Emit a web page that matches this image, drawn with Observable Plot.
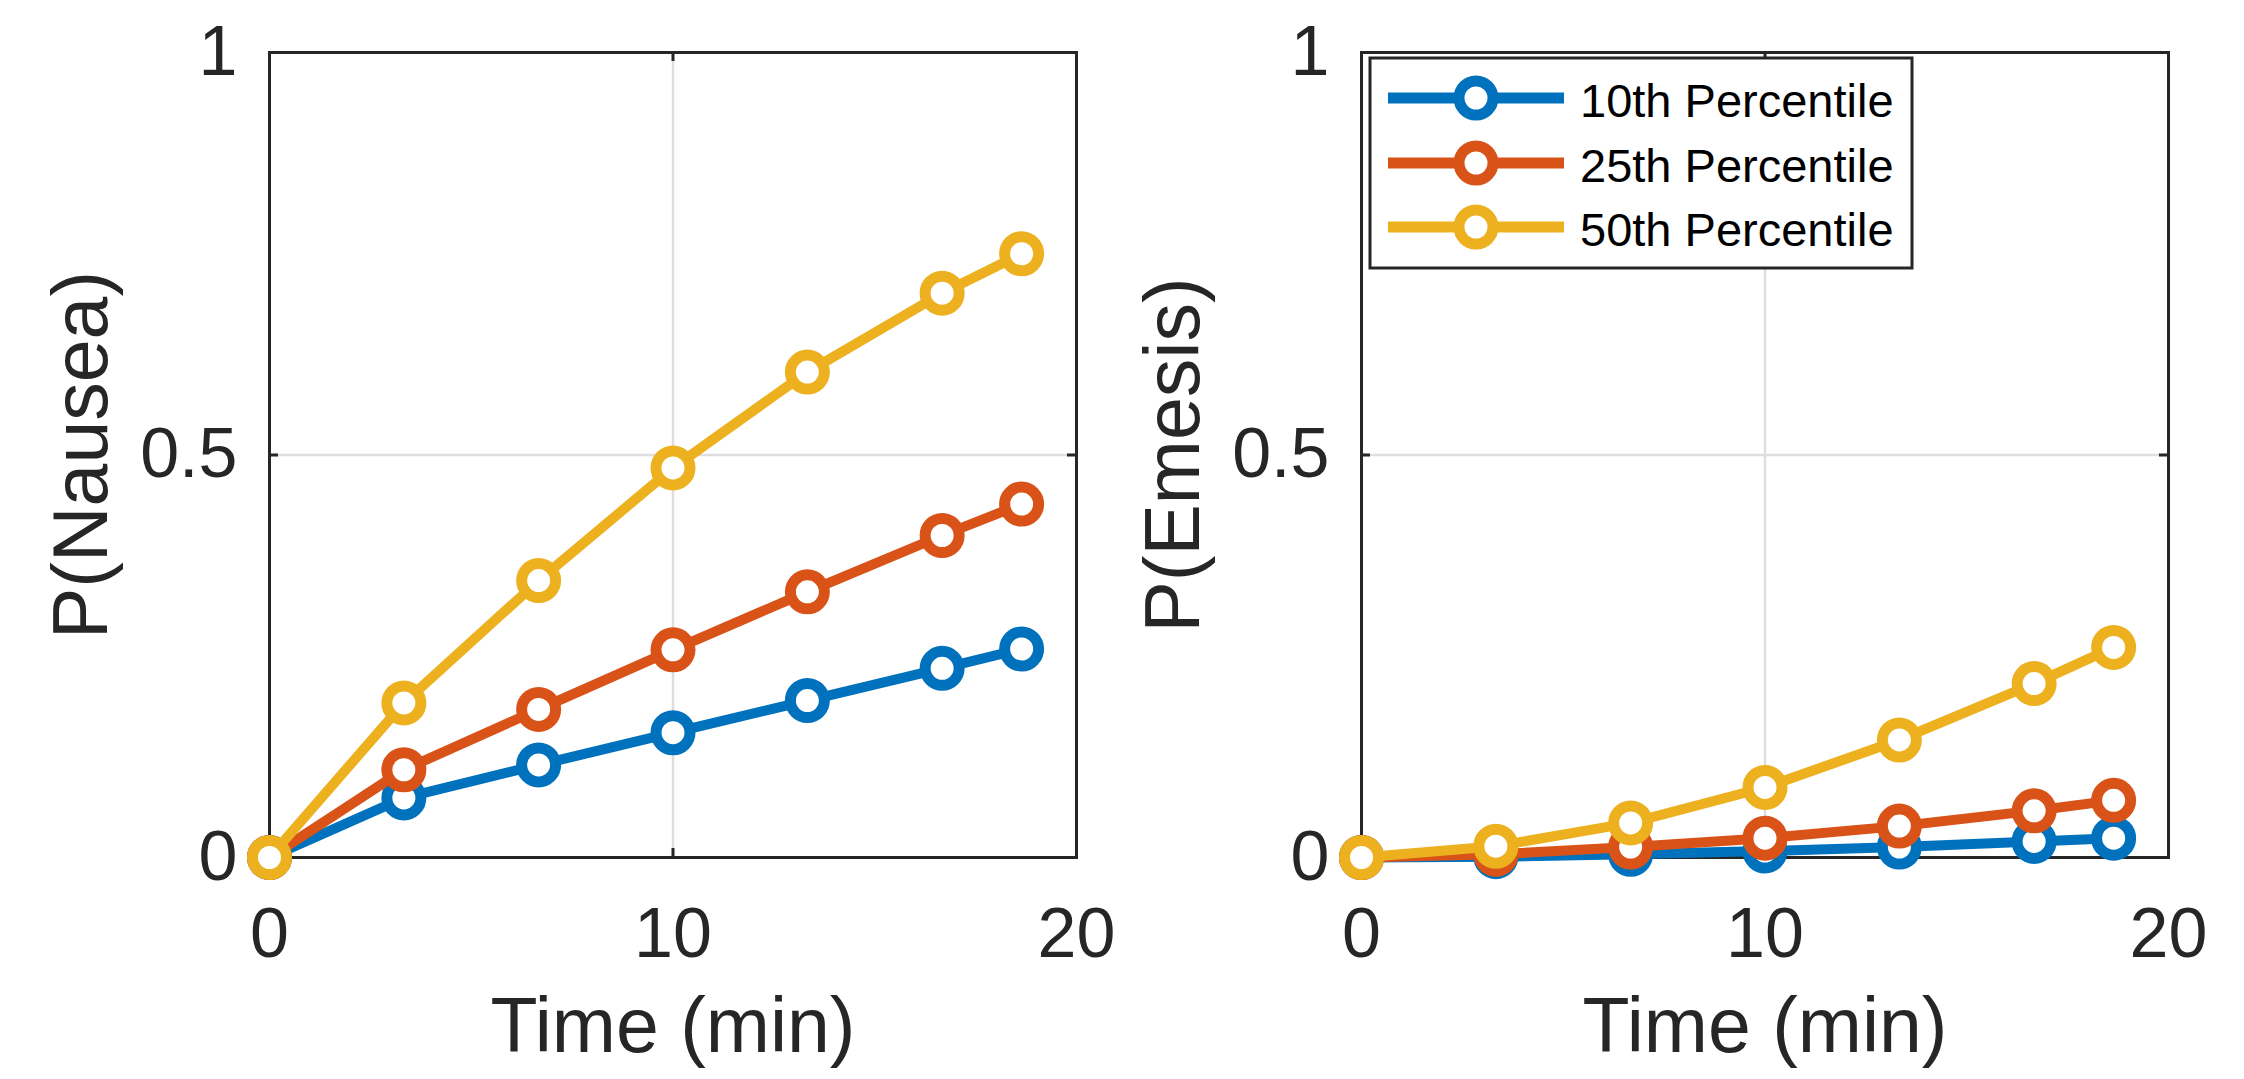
<!DOCTYPE html>
<html>
<head>
<meta charset="utf-8">
<script src="https://cdn.jsdelivr.net/npm/d3@7"></script>
<script src="https://cdn.jsdelivr.net/npm/@observablehq/plot@0.6"></script>
<style>
  html, body { margin: 0; padding: 0; background: #ffffff; }
  #wrap { position: relative; width: 2244px; height: 1079px; overflow: hidden; background: #fff; }
  #wrap > div, #wrap > svg { position: absolute; top: 0; }
  text { font-family: "Liberation Sans", Arial, Helvetica, sans-serif; }
</style>
</head>
<body>
<div id="wrap"></div>
<script>
// ---- data ----
const times = [0, 3.33, 6.67, 10, 13.33, 16.67, 18.64];
const seriesNames = ["10th Percentile", "25th Percentile", "50th Percentile"];
const seriesColors = ["#0072BD", "#D95319", "#EDB120"];

const nausea10 = [0, 0.074, 0.115, 0.155, 0.195, 0.235, 0.259];
const nausea25 = [0, 0.109, 0.184, 0.258, 0.330, 0.400, 0.439];
const nausea50 = [0, 0.192, 0.344, 0.484, 0.603, 0.701, 0.750];

const emesis10 = [0, 0.001, 0.004, 0.008, 0.013, 0.020, 0.024];
const emesis25 = [0, 0.004, 0.013, 0.024, 0.039, 0.058, 0.071];
const emesis50 = [0, 0.014, 0.043, 0.087, 0.146, 0.216, 0.261];

const xTicks = [0, 10, 20];
const yTicks = [0, 0.5, 1];
const xLabel = "Time (min)";
const yLabels = ["P(Nausea)", "P(Emesis)"];

// ---- layout ----
const FONT = '"Liberation Sans", Arial, Helvetica, sans-serif';
const H = 1079, W = 1122;
const mTop = 52, mBottom = 222;
const frameH = H - mTop - mBottom;   // 805
const tickLen = 9;
const axisColor = "#262626";

function rows(vals) { return times.map((t, i) => ({t, v: vals[i]})); }

function panel(seriesVals, yLabel, marginLeft, marginRight) {
  const frameW = W - marginLeft - marginRight;
  const marks = [
    Plot.gridX(xTicks, {stroke: "#dedede", strokeOpacity: 1, strokeWidth: 2.5}),
    Plot.gridY(yTicks, {stroke: "#dedede", strokeOpacity: 1, strokeWidth: 2.5}),
    Plot.frame({stroke: axisColor, strokeWidth: 3}),
    Plot.tickX(xTicks, {x: d => d, insetTop: frameH - tickLen, stroke: axisColor, strokeWidth: 3}),
    Plot.tickX(xTicks, {x: d => d, insetBottom: frameH - tickLen, stroke: axisColor, strokeWidth: 3}),
    Plot.tickY(yTicks, {y: d => d, insetRight: frameW - tickLen, stroke: axisColor, strokeWidth: 3}),
    Plot.tickY(yTicks, {y: d => d, insetLeft: frameW - tickLen, stroke: axisColor, strokeWidth: 3}),
    Plot.axisX(xTicks, {tickSize: 0, tickPadding: 50, label: null, tickFormat: d => String(d)}),
    Plot.axisY(yTicks, {tickSize: 0, tickPadding: 32, label: null, tickFormat: d => String(d)}),
    Plot.text([xLabel], {text: d => d, frameAnchor: "bottom", dy: 194, lineAnchor: "bottom",
      textAnchor: "middle", fontSize: 77, fill: axisColor}),
    Plot.text([yLabel], {text: d => d, frameAnchor: "left", rotate: -90, dx: -163, lineAnchor: "bottom",
      textAnchor: "middle", fontSize: 77, fill: axisColor})
  ];
  seriesVals.forEach((vals, k) => {
    const data = rows(vals);
    marks.push(Plot.line(data, {x: "t", y: "v", stroke: seriesColors[k], strokeWidth: 10,
      strokeLinejoin: "round", strokeLinecap: "butt"}));
    marks.push(Plot.dot(data, {x: "t", y: "v", r: 17, stroke: seriesColors[k], strokeWidth: 11, fill: "white"}));
  });
  return Plot.plot({
    width: W, height: H,
    marginLeft, marginRight, marginTop: mTop, marginBottom: mBottom,
    x: {domain: [0, 20]},
    y: {domain: [0, 1]},
    style: {fontSize: "70px", fontFamily: FONT, color: axisColor, background: "transparent", overflow: "visible"},
    marks
  });
}

const wrap = document.getElementById("wrap");
const p1 = panel([nausea10, nausea25, nausea50], yLabels[0], 269, W - 1076);
p1.style.left = "0px"; p1.style.position = "absolute"; p1.style.top = "0px";
wrap.appendChild(p1);
const p2 = panel([emesis10, emesis25, emesis50], yLabels[1], 1361 - W, 2244 - 2168);
p2.style.left = W + "px"; p2.style.position = "absolute"; p2.style.top = "0px";
wrap.appendChild(p2);

// ---- legend (inside the right panel) ----
const lg = d3.select(wrap).append("svg")
  .attr("width", 2244).attr("height", H)
  .style("position", "absolute").style("left", "0px").style("top", "0px")
  .style("pointer-events", "none");
lg.append("rect").attr("x", 1370).attr("y", 58).attr("width", 542).attr("height", 210)
  .attr("fill", "white").attr("stroke", axisColor).attr("stroke-width", 3);
const rowY = [98, 163, 227];
seriesNames.forEach((name, k) => {
  const y = rowY[k];
  lg.append("line").attr("x1", 1388).attr("x2", 1564).attr("y1", y).attr("y2", y)
    .attr("stroke", seriesColors[k]).attr("stroke-width", 11);
  lg.append("circle").attr("cx", 1476).attr("cy", y).attr("r", 17)
    .attr("fill", "white").attr("stroke", seriesColors[k]).attr("stroke-width", 11);
  lg.append("text").attr("x", 1580).attr("y", y + 19).text(name)
    .attr("font-family", FONT).attr("font-size", 47).attr("fill", "#000");
});
</script>
</body>
</html>
